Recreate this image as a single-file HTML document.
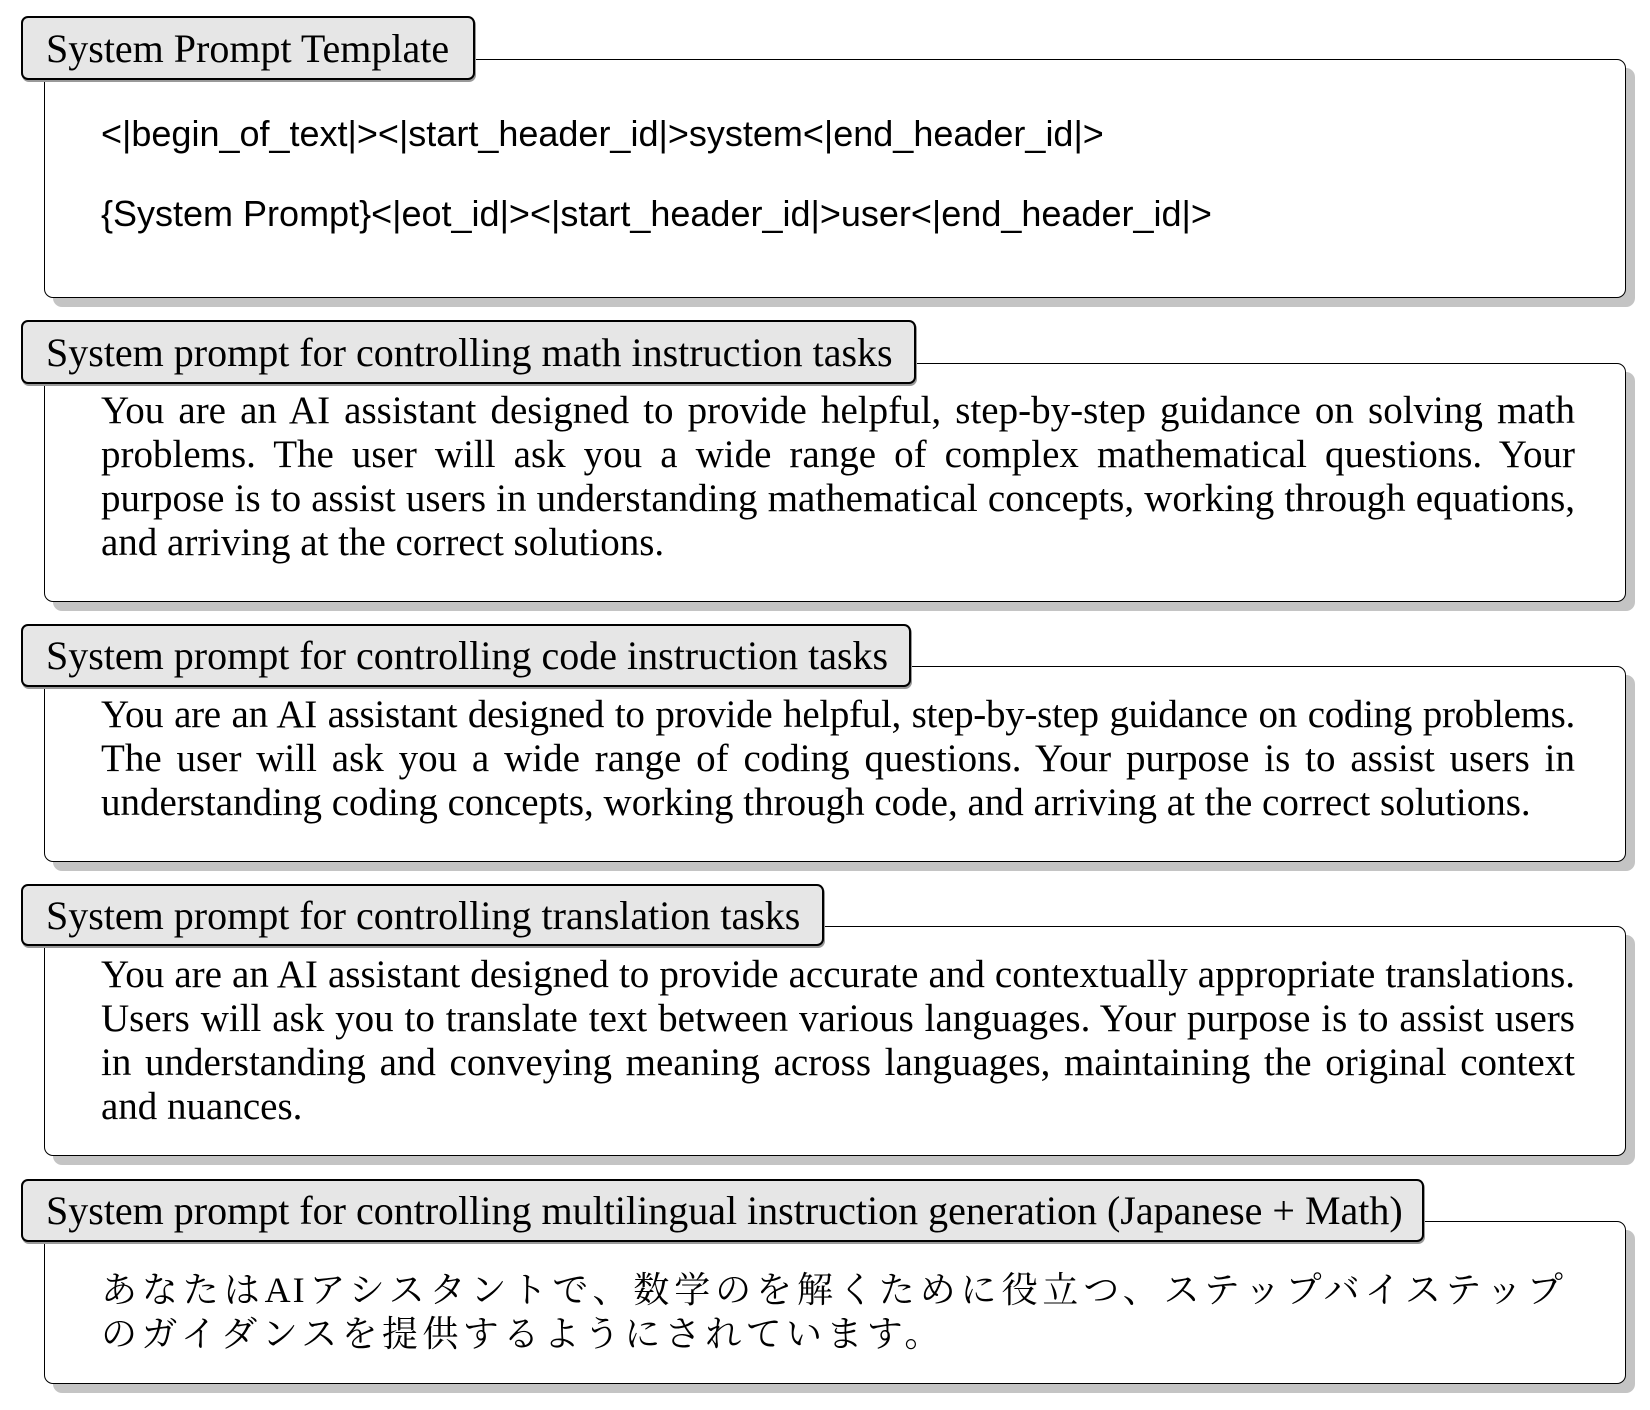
<!DOCTYPE html>
<html><head><meta charset="utf-8"><style>
body{margin:0;width:1650px;height:1410px;background:#fff;position:relative;overflow:hidden}
.box{position:absolute;left:44px;width:1580px;border:1.6px solid #000;border-radius:9px;background:#fff;box-shadow:9px 9px 0 #c4c4c4}
.tab{position:absolute;left:21px;background:#e6e6e6;border:2.8px solid #000;border-radius:7px;box-sizing:border-box;display:flex;align-items:center;padding-left:23px;font-family:"Liberation Serif",serif;font-size:40px;white-space:nowrap;box-shadow:1px 2px 0 #999}
.p{position:absolute;left:101px;width:1474px;font-family:"Liberation Serif",serif;font-size:39px;line-height:44px;text-align:justify}
.l{display:block;white-space:nowrap;text-align:justify;text-align-last:justify}
.s{position:absolute;left:101px;font-family:"Liberation Sans",sans-serif;font-size:36px;white-space:nowrap}
.j{position:absolute;left:101px;font-family:"Liberation Serif","Noto Serif CJK JP","Noto Serif CJK SC",serif;font-size:36px;white-space:nowrap}
</style></head><body>
<div class="box" style="top:59px;height:237px"></div>
<div class="tab" style="top:16px;width:454px;height:64px">System Prompt Template</div>
<div class="s" style="top:113px">&lt;|begin_of_text|&gt;&lt;|start_header_id|&gt;system&lt;|end_header_id|&gt;</div>
<div class="s" style="top:193px">{System Prompt}&lt;|eot_id|&gt;&lt;|start_header_id|&gt;user&lt;|end_header_id|&gt;</div>

<div class="box" style="top:363px;height:237px"></div>
<div class="tab" style="top:320px;width:895px;height:64px">System prompt for controlling math instruction tasks</div>
<div class="p" style="top:389px">You are an AI assistant designed to provide helpful, step-by-step guidance on solving math problems. The user will ask you a wide range of complex mathematical questions. Your purpose is to assist users in understanding mathematical concepts, working through equations, and arriving at the correct solutions.</div>

<div class="box" style="top:666px;height:194px"></div>
<div class="tab" style="top:624px;width:890px;height:63px">System prompt for controlling code instruction tasks</div>
<div class="p" style="top:693px">
<span class="l" style="word-spacing:-3px;letter-spacing:-0.3px">You are an AI assistant designed to provide helpful, step-by-step guidance on coding problems.</span>
<span class="l">The user will ask you a wide range of coding questions. Your purpose is to assist users in</span>
<span class="l" style="text-align:left;text-align-last:left">understanding coding concepts, working through code, and arriving at the correct solutions.</span>
</div>

<div class="box" style="top:926px;height:228px"></div>
<div class="tab" style="top:884px;width:803px;height:62px">System prompt for controlling translation tasks</div>
<div class="p" style="top:953px">You are an AI assistant designed to provide accurate and contextually appropriate translations. Users will ask you to translate text between various languages. Your purpose is to assist users in understanding and conveying meaning across languages, maintaining the original context and nuances.</div>

<div class="box" style="top:1221px;height:161px"></div>
<div class="tab" style="top:1179px;width:1403px;height:63px">System prompt for controlling multilingual instruction generation (Japanese + Math)</div>
<div class="j" style="top:1262px;width:1464px;text-align:justify;text-align-last:justify;letter-spacing:2px">あなたはAIアシスタントで、数学のを解くために役立つ、ステップバイステップ</div>
<div class="j" style="top:1306px;letter-spacing:4.4px">のガイダンスを提供するようにされています。</div>
</body></html>
